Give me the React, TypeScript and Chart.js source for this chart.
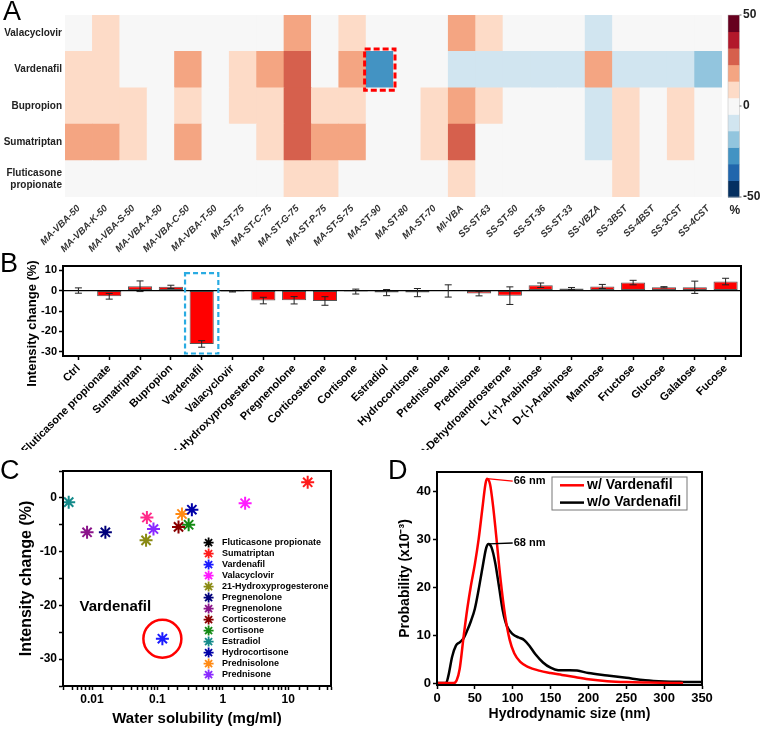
import React, { useEffect, useRef } from 'react';
import { Chart, registerables } from 'chart.js';

Chart.register(...registerables);

const FONT = "'Liberation Sans', Arial, Helvetica, sans-serif";
Chart.defaults.font.family = FONT;
Chart.defaults.color = '#000';

// ---------------- Panel A: heat map ----------------
const materialsA = ['MA-VBA-50', 'MA-VBA-K-50', 'MA-VBA-S-50', 'MA-VBA-A-50', 'MA-VBA-C-50', 'MA-VBA-T-50', 'MA-ST-75', 'MA-ST-C-75', 'MA-ST-G-75', 'MA-ST-P-75', 'MA-ST-S-75', 'MA-ST-90', 'MA-ST-80', 'MA-ST-70', 'MI-VBA', 'SS-ST-63', 'SS-ST-50', 'SS-ST-36', 'SS-ST-33', 'SS-VBZA', 'SS-3BST', 'SS-4BST', 'SS-3CST', 'SS-4CST'];
const drugsA = ['Valacyclovir', 'Vardenafil', 'Bupropion', 'Sumatriptan', 'Fluticasone propionate'];
const valacyclovirA = [0, 7, 0, 0, 0, 0, 0, 0, 15, 0, 7, 0, 0, 0, 15, 7, 0, 0, 0, -7, 0, 0, 0, 0];
const vardenafilA = [7, 7, 0, 0, 15, 0, 7, 15, 25, 0, 15, -25, 0, 0, -7, -7, -7, -7, -7, 15, -7, -7, -7, -15];
const bupropionA = [7, 7, 7, 0, 7, 0, 7, 7, 25, 7, 7, 0, 0, 7, 15, 7, 0, 0, 0, -7, 7, 0, 7, 0];
const sumatriptanA = [15, 15, 7, 0, 15, 0, 0, 7, 25, 15, 15, 0, 0, 7, 25, 0, 0, 0, 0, -7, 7, 0, 7, 0];
const fluticasoneA = [0, 0, 0, 0, 0, 0, 0, 0, 7, 7, 0, 0, 0, 0, 7, 0, 0, 0, 0, 0, 7, 0, 0, 0];
const rowsA = [valacyclovirA, vardenafilA, bupropionA, sumatriptanA, fluticasoneA];
const colorScaleA = ['#053061', '#2166ac', '#4393c3', '#92c5de', '#d1e5f0', '#f7f7f7', '#fddbc7', '#f4a582', '#d6604d', '#b2182b', '#67001f'];
const colorbarMinA = -50;
const colorbarMaxA = 50;
const colorbarTicksA = [50, 0, -50];
const highlightMaterialA = 'MA-ST-90';
const highlightDrugA = 'Vardenafil';

// ---------------- Panel B: bars ----------------
const compoundsB = ['Ctrl', 'Fluticasone propionate', 'Sumatriptan', 'Bupropion', 'Vardenafil', 'Valacyclovir', '21-Hydroxyprogesterone', 'Pregnenolone', 'Corticosterone', 'Cortisone', 'Estradiol', 'Hydrocortisone', 'Prednisolone', 'Prednisone', 't-Dehydroandrosterone', 'L-(+)-Arabinose', 'D-(-)-Arabinose', 'Mannose', 'Fructose', 'Glucose', 'Galatose', 'Fucose'];
const changeB = [0, -2.8, 2.1, 1.8, -26.1, -0.5, -4.9, -4.75, -5.1, -0.5, -1.0, -1.0, -0.2, -1.5, -2.5, 2.6, 1.0, 2.0, 3.9, 1.6, 1.6, 4.4];
const errorB = [1.3, 1.4, 2.6, 0.8, 1.6, 0.2, 1.6, 1.8, 2.1, 1.2, 1.5, 2.0, 3.0, 1.1, 4.3, 1.1, 0.5, 1.0, 1.1, 0.3, 3.0, 1.6];
const highlightB = 'Vardenafil';
const highlightTopB = 8.5;

// ---------------- Panel C: scatter ----------------
const compoundsC = ['Fluticasone propionate', 'Sumatriptan', 'Vardenafil', 'Valacyclovir', '21-Hydroxyprogesterone', 'Pregnenolone', 'Pregnenolone', 'Corticosterone', 'Cortisone', 'Estradiol', 'Hydrocortisone', 'Prednisolone', 'Prednisone'];
const solubilityC = [0.069, 19.8, 0.119, 2.19, 0.067, 0.016, 0.0084, 0.21, 0.30, 0.0044, 0.336, 0.237, 0.087];
const changeC = [-3.65, 2.9, -26.2, -1.0, -7.9, -6.4, -6.4, -5.4, -5.0, -0.8, -2.2, -3.0, -5.8];
const pointColorsC = ['#ff2a8a', '#ff1a1a', '#1a1aff', '#ff1aff', '#8a8a14', '#00007a', '#8a148a', '#8a0000', '#148a14', '#148a8a', '#0000a8', '#ff8a14', '#8a2aff'];
const legendColorsC = ['#000000', '#ff1a1a', '#1a1aff', '#ff1aff', '#8a8a14', '#00007a', '#8a148a', '#8a0000', '#148a14', '#148a8a', '#0000a8', '#ff8a14', '#8a2aff'];
const highlightC = 'Vardenafil';

// ---------------- Panel D: size distribution ----------------
const sizeWithD = [0, 22, 26, 30, 35, 40, 45, 50, 55, 60, 64, 66, 70, 74, 78, 84, 90, 96, 102, 110, 120, 135, 150, 165, 180, 200, 225, 250, 280, 325];
const probWithD = [0, 0, 0.6, 3, 9.5, 15.5, 20.5, 24.8, 30, 36.5, 41.5, 42.6, 41.5, 37, 31, 21.5, 14, 9, 6.2, 4.4, 3.4, 2.6, 2.1, 1.7, 1.3, 0.8, 0.4, 0.2, 0.1, 0];
const sizeWithoutD = [0, 12, 15, 20, 25, 30, 35, 40, 45, 50, 55, 60, 65, 68, 72, 77, 82, 87, 92, 100, 108, 115, 122, 130, 140, 150, 160, 175, 185, 200, 225, 250, 275, 300, 325, 350];
const probWithoutD = [0, 0, 1.5, 5.5, 7.8, 8.5, 9.3, 11, 13, 15.5, 19.5, 24, 28.2, 29, 28.3, 25, 20, 15, 12, 10.2, 9.5, 9, 7.8, 6, 4.3, 3.2, 2.7, 2.7, 2.6, 2.1, 1.6, 1.1, 0.6, 0.35, 0.25, 0.2];
const seriesNamesD = ['w/ Vardenafil', 'w/o Vardenafil'];
const seriesColorsD = ['#ff0000', '#000000'];

// ---------------- helpers ----------------
function heatColor(v: number) {
  const n = colorScaleA.length;
  const step = (colorbarMaxA - colorbarMinA) / n;
  let idx = Math.floor((v - colorbarMinA) / step);
  idx = Math.max(0, Math.min(n - 1, idx));
  return colorScaleA[idx];
}

const f = (size: number, weight = 'bold', style = 'normal') => `${style} ${weight} ${size}px ${FONT}`;

const framePlugin = {
  id: 'frame',
  afterDraw(chart: any) {
    const { ctx, chartArea: a } = chart;
    ctx.save();
    ctx.strokeStyle = '#000';
    ctx.lineWidth = 2;
    ctx.strokeRect(a.left, a.top, a.right - a.left, a.bottom - a.top);
    ctx.restore();
  },
};

function drawStar(ctx: CanvasRenderingContext2D, x: number, y: number, r: number) {
  ctx.beginPath();
  for (let k = 0; k < 4; k++) {
    const ang = (k * Math.PI) / 4;
    const dx = Math.cos(ang) * r, dy = Math.sin(ang) * r;
    ctx.moveTo(x - dx, y - dy);
    ctx.lineTo(x + dx, y + dy);
  }
  ctx.stroke();
}

function axisStyle(size: number) {
  return {
    border: { display: true, color: '#000', width: 2 },
    grid: { display: true, drawOnChartArea: false, drawTicks: true, tickLength: 4, tickColor: '#000', tickWidth: 1.5 },
    ticks: { color: '#000', padding: 2, font: { size, weight: 'bold' as const } },
  };
}

// ---------------- Panel A config ----------------
function makeA() {
  const drugsBottomUp = [...drugsA].reverse();
  const rowsBottomUp = [...rowsA].reverse();
  const heatExtras = {
    id: 'heatExtras',
    afterDraw(chart: any) {
      const { ctx, chartArea: a, scales } = chart;
      const xs = scales.x, ys = scales.y;
      const col = materialsA.indexOf(highlightMaterialA);
      const row = drugsBottomUp.indexOf(highlightDrugA);
      const half = (xs.getPixelForValue(1) - xs.getPixelForValue(0)) / 2;
      const cx = xs.getPixelForValue(col);
      const yTop = ys.getPixelForValue(row + 1);
      const yBot = ys.getPixelForValue(row);
      ctx.save();
      ctx.strokeStyle = '#ff0000';
      ctx.lineWidth = 3;
      ctx.setLineDash([6, 3]);
      ctx.strokeRect(cx - half - 1.5, yTop - 2.5, 2 * half + 3, yBot - yTop + 5);
      ctx.setLineDash([]);
      // colour bar
      const bx = a.right + 6, bw = 11.5;
      const n = colorScaleA.length;
      const ch = (a.bottom - a.top) / n;
      colorScaleA.forEach((c, i) => {
        ctx.fillStyle = c;
        ctx.fillRect(bx, a.bottom - (i + 1) * ch, bw, ch + 0.5);
      });
      ctx.strokeStyle = '#bbb';
      ctx.lineWidth = 0.5;
      ctx.strokeRect(bx, a.top, bw, a.bottom - a.top);
      ctx.fillStyle = '#222';
      ctx.font = f(12);
      ctx.textAlign = 'left';
      ctx.textBaseline = 'middle';
      colorbarTicksA.forEach((v) => {
        const y = a.bottom - ((v - colorbarMinA) / (colorbarMaxA - colorbarMinA)) * (a.bottom - a.top);
        ctx.fillText(String(v), bx + bw + 3.5, y);
        ctx.strokeStyle = '#666';
        ctx.lineWidth = 1;
        ctx.beginPath();
        ctx.moveTo(bx + bw, y);
        ctx.lineTo(bx + bw + 2, y);
        ctx.stroke();
      });
      ctx.textAlign = 'center';
      ctx.fillText('%', bx + bw / 2 + 1, a.bottom + 14);
      ctx.restore();
    },
  };
  return {
    type: 'bar',
    data: {
      labels: materialsA,
      datasets: rowsBottomUp.map((row, i) => ({
        label: drugsBottomUp[i],
        data: row.map(() => 1),
        backgroundColor: row.map(heatColor),
        borderWidth: 0,
        barPercentage: 1,
        categoryPercentage: 1,
      })),
    },
    options: {
      responsive: false,
      animation: false,
      devicePixelRatio: 1,
      layout: { padding: { left: 0, top: 15, right: 40, bottom: 0 } },
      plugins: { legend: { display: false }, tooltip: { enabled: false } },
      scales: {
        x: {
          stacked: true,
          grid: { display: false, drawTicks: false },
          border: { display: false },
          ticks: { autoSkip: false, minRotation: 45, maxRotation: 45, padding: 6, color: '#333', font: { size: 9.5, weight: 'bold', style: 'italic' } },
          afterFit: (s: any) => { s.height = 61; },
        },
        y: {
          stacked: true,
          min: 0,
          max: drugsA.length,
          grid: { display: false, drawTicks: false },
          border: { display: false },
          afterBuildTicks: (s: any) => { s.ticks = drugsBottomUp.map((_, i) => ({ value: i + 0.5 })); },
          ticks: {
            padding: 3,
            color: '#222',
            font: { size: 10, weight: 'bold' },
            callback: (v: any) => {
              const name = drugsBottomUp[Math.floor(Number(v))];
              if (!name) return '';
              return name.length > 13 ? name.split(' ') : name;
            },
          },
          afterFit: (s: any) => { s.width = 65; },
        },
      },
    },
    plugins: [heatExtras],
  };
}

// ---------------- Panel B config ----------------
function makeB() {
  const extras = {
    id: 'barsB',
    afterDatasetsDraw(chart: any) {
      const { ctx, chartArea: a, scales } = chart;
      const y = scales.y;
      const meta = chart.getDatasetMeta(0);
      ctx.save();
      const y0 = y.getPixelForValue(0);
      ctx.strokeStyle = '#000';
      ctx.lineWidth = 1.2;
      ctx.beginPath();
      ctx.moveTo(a.left, y0);
      ctx.lineTo(a.right, y0);
      ctx.stroke();
      ctx.strokeStyle = '#222';
      ctx.lineWidth = 1;
      meta.data.forEach((el: any, i: number) => {
        const x = el.x;
        const top = y.getPixelForValue(changeB[i] + errorB[i]);
        const bot = y.getPixelForValue(changeB[i] - errorB[i]);
        ctx.beginPath();
        ctx.moveTo(x, top);
        ctx.lineTo(x, bot);
        ctx.moveTo(x - 3.5, top);
        ctx.lineTo(x + 3.5, top);
        ctx.moveTo(x - 3.5, bot);
        ctx.lineTo(x + 3.5, bot);
        ctx.stroke();
      });
      const el = meta.data[compoundsB.indexOf(highlightB)];
      const catW = (a.right - a.left) / compoundsB.length;
      const top = y.getPixelForValue(highlightTopB);
      ctx.strokeStyle = '#29abe2';
      ctx.lineWidth = 2.2;
      ctx.setLineDash([5, 3]);
      ctx.strokeRect(el.x - catW * 0.54, top, catW * 1.08, a.bottom - 2.5 - top);
      ctx.restore();
    },
    afterDraw(chart: any) {
      const { ctx, chartArea: a } = chart;
      ctx.save();
      ctx.translate(32.5, (a.top + a.bottom) / 2 + 12.5);
      ctx.rotate(-Math.PI / 2);
      ctx.font = f(13);
      ctx.fillStyle = '#000';
      ctx.textAlign = 'center';
      ctx.textBaseline = 'middle';
      ctx.fillText('Intensity change (%)', 0, 0);
      ctx.restore();
    },
  };
  const ax = axisStyle(11);
  return {
    type: 'bar',
    data: {
      labels: compoundsB,
      datasets: [{
        data: changeB,
        backgroundColor: '#ff0000',
        borderColor: '#555',
        borderWidth: 1,
        borderSkipped: false,
        barPercentage: 0.8,
        categoryPercentage: 0.98,
      }],
    },
    options: {
      responsive: false,
      animation: false,
      devicePixelRatio: 1,
      layout: { padding: { left: 0, top: 10, right: 21, bottom: 0 } },
      plugins: { legend: { display: false }, tooltip: { enabled: false } },
      scales: {
        x: {
          ...ax,
          grid: { ...ax.grid, offset: false },
          ticks: { ...ax.ticks, autoSkip: false, minRotation: 45, maxRotation: 45, font: { size: 11, weight: 'bold' } },
          afterFit: (s: any) => { s.height = 94; },
        },
        y: {
          ...ax,
          min: -32,
          max: 12,
          ticks: { ...ax.ticks, stepSize: 5, includeBounds: false, callback: (v: any) => (Number(v) % 10 === 0 ? String(v) : '') },
          afterFit: (s: any) => { s.width = 63; },
        },
      },
    },
    plugins: [extras, framePlugin],
  };
}

// ---------------- Panel C config ----------------
function makeC() {
  const extras = {
    id: 'extrasC',
    afterDraw(chart: any) {
      const { ctx, chartArea: a, scales } = chart;
      const i = compoundsC.indexOf(highlightC);
      const px = scales.x.getPixelForValue(solubilityC[i]);
      const py = scales.y.getPixelForValue(changeC[i]);
      ctx.save();
      ctx.strokeStyle = '#ff0000';
      ctx.lineWidth = 2.5;
      ctx.beginPath();
      ctx.arc(px, py, 19, 0, Math.PI * 2);
      ctx.stroke();
      ctx.fillStyle = '#000';
      ctx.font = f(15);
      ctx.textAlign = 'center';
      ctx.textBaseline = 'middle';
      ctx.fillText(highlightC, scales.x.getPixelForValue(0.0227), scales.y.getPixelForValue(-20.3));
      ctx.font = f(9);
      ctx.textAlign = 'left';
      compoundsC.forEach((name, k) => {
        const yy = a.top + 71.6 + 11 * k;
        ctx.strokeStyle = legendColorsC[k];
        ctx.lineWidth = 1.8;
        drawStar(ctx, a.left + 145.6, yy, 5);
        ctx.fillStyle = '#000';
        ctx.fillText(name, a.left + 159, yy);
      });
      ctx.restore();
    },
  };
  const ax = axisStyle(12);
  return {
    type: 'scatter',
    data: {
      datasets: compoundsC.map((name, i) => ({
        label: name,
        data: [{ x: solubilityC[i], y: changeC[i] }],
        pointStyle: 'star',
        pointRadius: 6.5,
        pointBorderWidth: 2,
        borderColor: pointColorsC[i],
        backgroundColor: pointColorsC[i],
      })),
    },
    options: {
      responsive: false,
      animation: false,
      devicePixelRatio: 1,
      layout: { padding: { left: 0, top: 21, right: 49, bottom: 0 } },
      plugins: { legend: { display: false }, tooltip: { enabled: false } },
      scales: {
        x: {
          ...ax,
          type: 'logarithmic',
          min: 0.0036,
          max: 45,
          ticks: {
            ...ax.ticks,
            autoSkip: false,
            maxRotation: 0,
            includeBounds: false,
            callback: (v: any) => {
              const l = Math.log10(Number(v));
              return Math.abs(l - Math.round(l)) < 1e-6 ? String(Number(v)) : '';
            },
          },
          title: { display: true, text: 'Water solubility (mg/ml)', color: '#000', font: { size: 15, weight: 'bold' }, padding: { top: 0, bottom: 1 } },
          afterFit: (s: any) => { s.height = 43; },
        },
        y: {
          ...ax,
          min: -35,
          max: 5,
          ticks: { ...ax.ticks, stepSize: 5, callback: (v: any) => (Number(v) % 10 === 0 ? String(v) : '') },
          title: { display: true, text: 'Intensity change (%)', color: '#000', font: { size: 16, weight: 'bold' }, padding: { top: 17, bottom: 0 } },
          afterFit: (s: any) => { s.width = 63; },
        },
      },
    },
    plugins: [extras, framePlugin],
  };
}

// ---------------- Panel D config ----------------
function makeD() {
  const series = [
    { xs: sizeWithD, ys: probWithD },
    { xs: sizeWithoutD, ys: probWithoutD },
  ];
  const extras = {
    id: 'extrasD',
    afterDraw(chart: any) {
      const { ctx, chartArea: a, scales } = chart;
      ctx.save();
      series.forEach((s, k) => {
        let m = 0;
        s.ys.forEach((v, i) => { if (v > s.ys[m]) m = i; });
        const px = scales.x.getPixelForValue(s.xs[m]);
        const py = scales.y.getPixelForValue(s.ys[m]);
        const ex = scales.x.getPixelForValue(100);
        const ey = scales.y.getPixelForValue(s.ys[m] - (k === 0 ? 0.5 : -0.2));
        ctx.strokeStyle = seriesColorsD[k];
        ctx.lineWidth = 1.3;
        ctx.beginPath();
        ctx.moveTo(px, py);
        ctx.lineTo(ex, ey);
        ctx.stroke();
        ctx.fillStyle = '#000';
        ctx.font = f(11);
        ctx.textAlign = 'left';
        ctx.textBaseline = 'middle';
        ctx.fillText(`${Math.round(s.xs[m])} nm`, ex + 1, ey);
      });
      const bx = a.left + 115, by = a.top + 5, bw = 135, bh = 33;
      ctx.strokeStyle = '#777';
      ctx.lineWidth = 1;
      ctx.strokeRect(bx, by, bw, bh);
      ctx.font = f(14);
      seriesNamesD.forEach((name, k) => {
        const yy = by + 8.3 + 17.3 * k;
        ctx.strokeStyle = seriesColorsD[k];
        ctx.lineWidth = 2.5;
        ctx.beginPath();
        ctx.moveTo(bx + 8, yy);
        ctx.lineTo(bx + 32, yy);
        ctx.stroke();
        ctx.fillStyle = '#000';
        ctx.fillText(name, bx + 35, yy);
      });
      ctx.restore();
    },
  };
  const ax = axisStyle(13);
  return {
    type: 'line',
    data: {
      datasets: series.map((s, k) => ({
        label: seriesNamesD[k],
        data: s.xs.map((x, i) => ({ x, y: s.ys[i] })),
        borderColor: seriesColorsD[k],
        borderWidth: 2.5,
        pointRadius: 0,
        fill: false,
        cubicInterpolationMode: 'monotone',
      })),
    },
    options: {
      responsive: false,
      animation: false,
      devicePixelRatio: 1,
      layout: { padding: { left: 0, top: 22, right: 60, bottom: 0 } },
      plugins: { legend: { display: false }, tooltip: { enabled: false } },
      scales: {
        x: {
          ...ax,
          type: 'linear',
          min: 0,
          max: 350,
          ticks: { ...ax.ticks, stepSize: 50, maxRotation: 0 },
          title: { display: true, text: 'Hydrodynamic size (nm)', color: '#000', font: { size: 14, weight: 'bold' }, padding: { top: 0, bottom: 6.6 } },
          afterFit: (s: any) => { s.height = 44; },
        },
        y: {
          ...ax,
          min: -0.4,
          max: 44,
          afterBuildTicks: (s: any) => { s.ticks = [0, 10, 20, 30, 40].map((value) => ({ value })); },
          title: { display: true, text: 'Probability (x10\u207B\u00B3)', color: '#000', font: { size: 14, weight: 'bold' }, padding: { top: 16.6, bottom: 0 } },
          afterFit: (s: any) => { s.width = 57; },
        },
      },
    },
    plugins: [extras, framePlugin],
  };
}

function ChartBox({ left, top, width, height, make }: { left: number; top: number; width: number; height: number; make: () => any }) {
  const ref = useRef<HTMLCanvasElement>(null);
  useEffect(() => {
    const chart = new Chart(ref.current as HTMLCanvasElement, make());
    return () => chart.destroy();
  }, []);
  return (
    <div style={{ position: 'absolute', left, top, width, height }}>
      <canvas ref={ref} width={width} height={height} style={{ width, height, display: 'block' }} />
    </div>
  );
}

const panelLabel = (text: string, left: number, top: number) => (
  <div style={{ position: 'absolute', left, top, fontFamily: FONT, fontSize: 27, lineHeight: '27px', color: '#000' }}>{text}</div>
);

export default function App() {
  return (
    <div style={{ position: 'absolute', left: 0, top: 0, width: 762, height: 729, background: '#fff', overflow: 'hidden' }}>
      <ChartBox left={0} top={0} width={762} height={258} make={makeA} />
      <ChartBox left={0} top={256} width={762} height={194} make={makeB} />
      <ChartBox left={0} top={450} width={380} height={279} make={makeC} />
      <ChartBox left={380} top={450} width={382} height={279} make={makeD} />
      {panelLabel('A', 3, -2)}
      {panelLabel('B', 0, 250)}
      {panelLabel('C', 0, 457)}
      {panelLabel('D', 388, 457)}
    </div>
  );
}
